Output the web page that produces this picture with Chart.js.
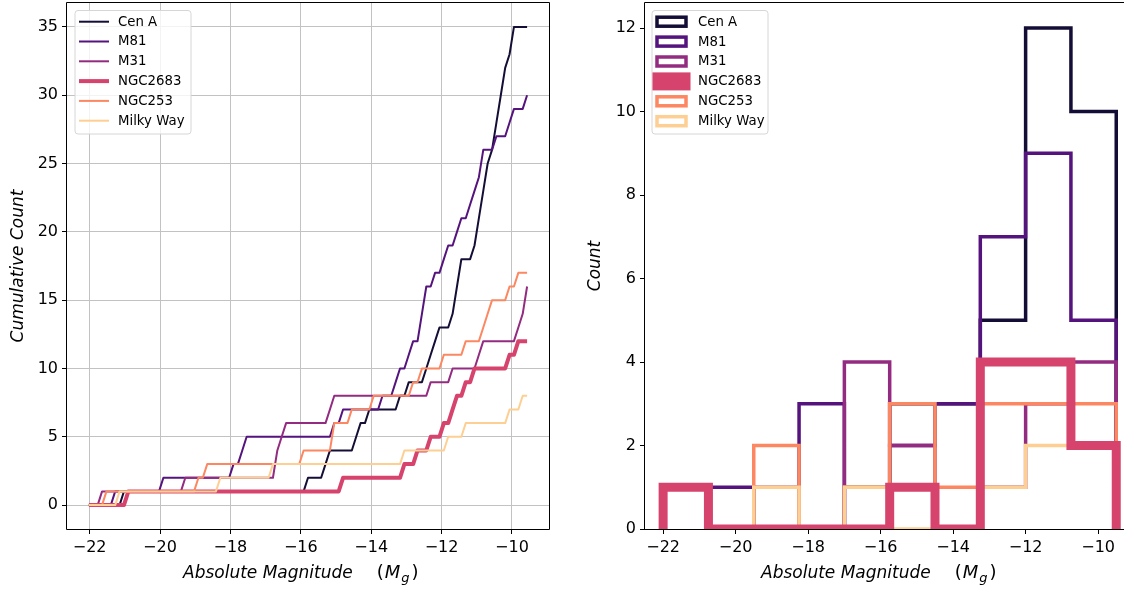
<!DOCTYPE html>
<html>
<head>
<meta charset="utf-8">
<script src="https://cdn.jsdelivr.net/npm/chart.js@4.4.1/dist/chart.umd.min.js"></script>
<style>
  html, body { margin: 0; padding: 0; background: #fff; overflow: hidden; }
  #wrap { position: relative; width: 1124px; height: 589px; }
  #left { position: absolute; left: 0; top: 0; }
  #right { position: absolute; left: 560px; top: 0; }
</style>
</head>
<body>
<div id="wrap">
  <canvas id="left" width="560" height="589"></canvas>
  <canvas id="right" width="564" height="589"></canvas>
</div>
<script>
// ---- data ----
const galaxies = ["Cen A", "M81", "M31", "NGC2683", "NGC253", "Milky Way"];
const colors = ["#140e36", "#55137d", "#932b80", "#d6446d", "#fc8761", "#fecf92"];

// absolute magnitudes (sorted), from the cumulative panel
const cenAMags = [-21.10, -15.80, -15.33, -15.19, -14.53, -14.40, -14.10, -13.30, -13.05, -12.55,
  -12.42, -12.30, -12.18, -11.70, -11.62, -11.57, -11.52, -11.48, -11.15, -11.05,
  -10.95, -10.86, -10.82, -10.79, -10.77, -10.58, -10.54, -10.50, -10.42, -10.35,
  -10.27, -10.22, -10.10, -10.04, -9.99];
const m81Mags = [-21.36, -20.00, -17.97, -17.72, -17.55, -15.05, -14.92, -13.75, -13.42, -13.28,
  -12.95, -12.88, -12.65, -12.60, -12.55, -12.50, -12.21, -11.95, -11.82, -11.60,
  -11.52, -11.22, -11.12, -11.02, -10.92, -10.84, -10.45, -10.10, -10.02, -9.60];
const m31Mags = [-21.72, -19.36, -16.78, -16.70, -16.55, -16.45, -15.22, -15.12, -12.33, -11.80,
  -10.99, -10.89, -9.90, -9.80, -9.68, -9.60];
const ngc2683Mags = [-20.95, -14.86, -13.13, -12.78, -12.41, -12.02, -11.76, -11.66, -11.36, -11.17,
  -10.13, -9.85];
const ngc253Mags = [-21.57, -18.97, -18.69, -15.97, -15.17, -15.05, -14.58, -14.01, -12.84, -12.57,
  -12.04, -11.36, -10.89, -10.81, -10.65, -10.18, -9.85];
const milkyWayMags = [-21.18, -18.30, -16.85, -13.06, -11.86, -11.40, -10.18, -9.80];

// fine binning used for the cumulative curves
const cumRange = [-22.02, -9.57];
const cumBins = 100;

// histogram panel: bin edges and counts per bin
const histEdges = [-22.0, -20.75, -19.5, -18.25, -17.0, -15.75, -14.5, -13.25, -12.0, -10.75, -9.5];
const cenAHist     = [1, 0, 0, 0, 1, 3, 3, 5, 12, 10];
const m81Hist      = [1, 1, 0, 3, 0, 2, 3, 7, 9, 5];
const m31Hist      = [1, 0, 1, 0, 4, 2, 0, 1, 3, 4];
const ngc2683Hist  = [1, 0, 0, 0, 0, 1, 0, 4, 4, 2];
const ngc253Hist   = [1, 0, 2, 0, 1, 3, 1, 3, 3, 3];
const milkyWayHist = [1, 0, 1, 0, 1, 0, 0, 1, 2, 2];

// ticks
const magTicks = [-22, -20, -18, -16, -14, -12, -10];
const cumTicks = [0, 5, 10, 15, 20, 25, 30, 35];
const countTicks = [0, 2, 4, 6, 8, 10, 12];

const allMags = [cenAMags, m81Mags, m31Mags, ngc2683Mags, ngc253Mags, milkyWayMags];
const allHist = [cenAHist, m81Hist, m31Hist, ngc2683Hist, ngc253Hist, milkyWayHist];

// ---- helpers ----
const FAM = "'DejaVu Sans', sans-serif";
Chart.defaults.font.family = FAM;
Chart.defaults.color = "#000";

const fmt = v => (v < 0 ? "\u2212" + Math.abs(v) : String(v));

// later series on top; in the histogram the thick NGC2683 outline sits above all
const lineOrder = i => galaxies.length - i;
const histOrder = i => (galaxies[i] === "NGC2683" ? 0 : galaxies.length - i);

function cumulativePoints(mags) {
  const step = (cumRange[1] - cumRange[0]) / cumBins;
  const pts = [];
  for (let j = 0; j <= cumBins; j++) {
    const edge = cumRange[0] + j * step;
    const n = mags.filter(m => (j === cumBins ? m <= edge + 1e-9 : m < edge)).length;
    pts.push({ x: edge, y: n });
  }
  return pts;
}

function stepPoints(edges, counts) {
  const pts = [{ x: edges[0], y: 0 }];
  counts.forEach((c, i) => {
    pts.push({ x: edges[i], y: c }, { x: edges[i + 1], y: c });
  });
  pts.push({ x: edges[edges.length - 1], y: 0 });
  return pts;
}

function drawXLabel(ctx, x, y) {
  const parts = [
    { t: "Absolute Magnitude", f: "italic 17px " + FAM, dy: 0, after: 24 },
    { t: "(", f: "18px " + FAM, dy: 0, after: 1 },
    { t: "M", f: "italic 18px " + FAM, dy: 0, after: 1 },
    { t: "g", f: "italic 13px " + FAM, dy: 4, after: 2 },
    { t: ")", f: "18px " + FAM, dy: 0, after: 0 }
  ];
  ctx.textAlign = "left";
  ctx.textBaseline = "alphabetic";
  parts.forEach(p => {
    ctx.font = p.f;
    ctx.fillText(p.t, x, y + p.dy);
    x += ctx.measureText(p.t).width + p.after;
  });
}

// frame, axis titles and legend
const decor = {
  id: "decor",
  afterDatasetsDraw(chart, args, o) {
    const ctx = chart.ctx, a = chart.chartArea;
    ctx.save();
    ctx.fillStyle = "#000";
    ctx.strokeStyle = "#000";
    ctx.lineWidth = 1;
    const L = Math.round(a.left) - 0.5, R = Math.round(a.right) + 0.5;
    const T = Math.round(a.top) - 0.5, B = Math.round(a.bottom) + 0.5;
    ctx.beginPath();
    ctx.moveTo(L, B); ctx.lineTo(L, T); ctx.lineTo(R, T);
    if (o.rightSpine) ctx.lineTo(R, B);
    ctx.moveTo(L, B); ctx.lineTo(R, B);
    ctx.stroke();

    // axis titles
    drawXLabel(ctx, o.xTitleX, 578);
    ctx.save();
    ctx.translate(o.yTitleX, (a.top + a.bottom) / 2);
    ctx.rotate(-Math.PI / 2);
    ctx.font = "italic 17px " + FAM;
    ctx.textAlign = "center";
    ctx.textBaseline = "middle";
    ctx.fillText(o.yTitle, 0, 0);
    ctx.restore();

    // legend
    const lg = o.legend;
    ctx.beginPath();
    ctx.roundRect(lg.x, lg.y, lg.w, lg.h, 3);
    ctx.fillStyle = "rgba(255,255,255,0.8)";
    ctx.fill();
    ctx.strokeStyle = "#d6d6d6";
    ctx.lineWidth = 1;
    ctx.stroke();
    ctx.font = "13.3px " + FAM;
    ctx.textAlign = "left";
    ctx.textBaseline = "middle";
    galaxies.forEach((name, i) => {
      const ds = chart.data.datasets[i];
      const y = lg.row0 + i * lg.rowStep;
      ctx.strokeStyle = ds.borderColor;
      ctx.lineWidth = ds.borderWidth;
      if (lg.kind === "line") {
        ctx.lineCap = "butt";
        ctx.beginPath();
        ctx.moveTo(lg.sx0, y); ctx.lineTo(lg.sx1, y);
        ctx.stroke();
      } else {
        ctx.lineJoin = "miter";
        ctx.strokeRect(lg.sx0, y - 4.5, lg.sx1 - lg.sx0, 9);
      }
      ctx.fillStyle = "#000";
      ctx.fillText(name, lg.tx, y + 0.5);
    });
    ctx.restore();
  }
};

function linAxis(min, max, ticks, size, isX, gridOn) {
  return {
    type: "linear",
    min: min,
    max: max,
    afterBuildTicks: s => { s.ticks = ticks.map(v => ({ value: v })); },
    afterFit: s => {
      if (isX) s.height = size; else s.width = size;
      s.paddingTop = 0; s.paddingBottom = 0; s.paddingLeft = 0; s.paddingRight = 0;
    },
    ticks: { callback: v => fmt(v), font: { size: 16 }, color: "#000", padding: 4,
             maxRotation: 0, autoSkip: false },
    grid: { drawOnChartArea: gridOn, color: "#c2c2c2", lineWidth: 1,
            drawTicks: true, tickLength: 5, tickColor: "#000", tickWidth: 1 },
    border: { display: false }
  };
}

// ---- left: cumulative counts ----
new Chart(document.getElementById("left"), {
  type: "line",
  data: {
    datasets: galaxies.map((g, i) => ({
      label: g,
      data: cumulativePoints(allMags[i]),
      borderColor: colors[i],
      borderWidth: g === "NGC2683" ? 4 : 2,
      borderJoinStyle: "round",
      pointRadius: 0,
      tension: 0,
      fill: false,
      order: lineOrder(i)
    }))
  },
  options: {
    responsive: false,
    animation: false,
    events: [],
    layout: { padding: { left: 0, top: 3, right: 11, bottom: 0 } },
    plugins: {
      legend: { display: false },
      tooltip: { enabled: false },
      decor: {
        rightSpine: true, xTitleX: 183, yTitleX: 19, yTitle: "Cumulative Count",
        legend: { kind: "line", x: 75, y: 10.5, w: 116, h: 123.5, row0: 21.7, rowStep: 19.8,
                  sx0: 79, sx1: 109, tx: 118 }
      }
    },
    scales: {
      x: linAxis(-22.6425, -8.9475, magTicks, 60, true, true),
      y: linAxis(-1.75, 36.75, cumTicks, 67, false, true)
    }
  },
  plugins: [decor]
});

// ---- right: histograms ----
new Chart(document.getElementById("right"), {
  type: "line",
  data: {
    datasets: galaxies.map((g, i) => ({
      label: g,
      data: stepPoints(histEdges, allHist[i]),
      borderColor: colors[i],
      borderWidth: g === "NGC2683" ? 9 : 3.5,
      borderJoinStyle: "miter",
      borderCapStyle: "butt",
      pointRadius: 0,
      tension: 0,
      fill: false,
      clip: 0,
      order: histOrder(i)
    }))
  },
  options: {
    responsive: false,
    animation: false,
    events: [],
    layout: { padding: { left: 0, top: 3, right: 0, bottom: 0 } },
    plugins: {
      legend: { display: false },
      tooltip: { enabled: false },
      decor: {
        rightSpine: false, xTitleX: 201, yTitleX: 36, yTitle: "Count",
        legend: { kind: "box", x: 92, y: 10.5, w: 116, h: 123.5, row0: 21.7, rowStep: 19.9,
                  sx0: 97, sx1: 126, tx: 138 }
      }
    },
    scales: {
      x: linAxis(-22.5, -9.286, magTicks, 60, true, false),
      y: linAxis(0, 12.6, countTicks, 85, false, false)
    }
  },
  plugins: [decor]
});
</script>
</body>
</html>
